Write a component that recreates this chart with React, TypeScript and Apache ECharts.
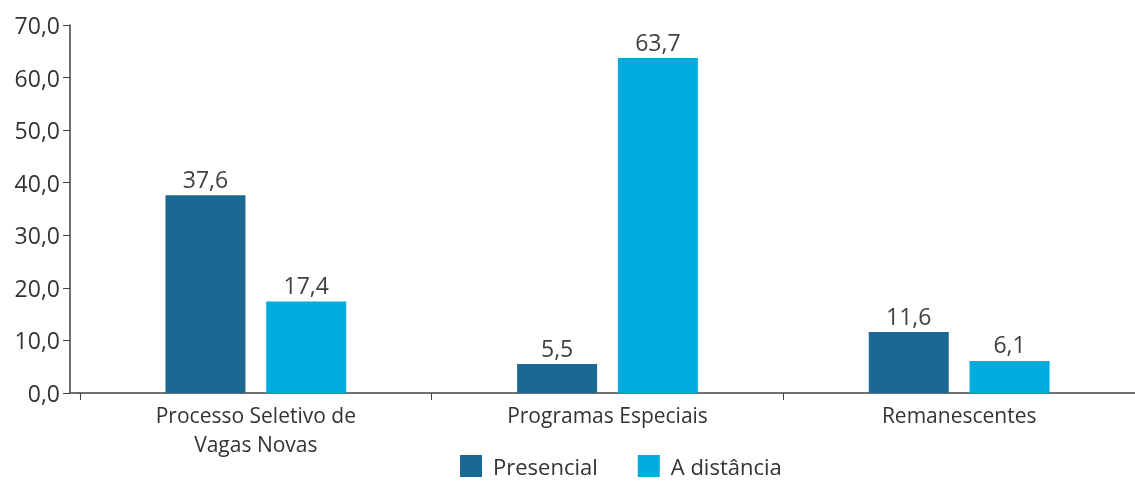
import React, { useEffect, useRef } from "react";
import * as echarts from "echarts";

const categories = ["Processo Seletivo de\nVagas Novas", "Programas Especiais", "Remanescentes"];
const presencial = [37.6, 5.5, 11.6];
const distancia = [17.4, 63.7, 6.1];
const seriesNames = ["Presencial", "A distância"];

const FONT = "Open Sans";
const fmt = (v: number) => v.toFixed(1).replace(".", ",");

export default function App() {
  const ref = useRef<HTMLDivElement>(null);
  useEffect(() => {
    if (!ref.current) return;
    const chart = echarts.init(ref.current, undefined, { renderer: "svg" });
    const label = {
      show: true,
      position: "top" as const,
      distance: 5,
      color: "#404040",
      fontSize: 23,
      fontFamily: FONT,
      formatter: (p: any) => fmt(p.value),
    };
    chart.setOption({
      animation: false,
      textStyle: { fontFamily: FONT },
      grid: { left: 80, top: 25, width: 1063, height: 368 },
      graphic: [
        { type: "line", shape: { x1: 70, y1: 393, x2: 80, y2: 393 }, style: { stroke: "#404040", lineWidth: 1.5 } },
      ],
      legend: {
        left: 455,
        top: 450,
        itemWidth: 22,
        itemHeight: 22,
        itemGap: 40,
        icon: "rect",
        textStyle: { fontSize: 22, lineHeight: 22, color: "#333", fontFamily: FONT, padding: [0, 0, 0, 6] },
        data: seriesNames,
      },
      xAxis: {
        type: "category",
        data: categories,
        axisLine: { lineStyle: { color: "#404040", width: 1.5 } },
        axisTick: { show: true, length: 7, lineStyle: { color: "#404040" } },
        axisLabel: { fontSize: 21, color: "#333", fontFamily: FONT, margin: 7, lineHeight: 29 },
      },
      yAxis: {
        type: "value",
        min: 0,
        max: 70,
        interval: 10,
        offset: 10,
        axisLine: { show: true, lineStyle: { color: "#404040", width: 1.5 } },
        axisTick: { show: true, length: 7, lineStyle: { color: "#404040" } },
        splitLine: { show: false },
        axisLabel: { fontSize: 23, color: "#333", fontFamily: FONT, margin: 10, formatter: (v: number) => fmt(v) },
      },
      series: [
        { name: seriesNames[0], type: "bar", data: presencial, barWidth: 80, barGap: "26%", itemStyle: { color: "#1b6892" }, label },
        { name: seriesNames[1], type: "bar", data: distancia, barWidth: 80, barGap: "26%", itemStyle: { color: "#00acdd" }, label },
      ],
    });
    return () => chart.dispose();
  }, []);
  return <div ref={ref} style={{ position: "fixed", left: 0, top: 0, width: 1135, height: 481 }} />;
}
